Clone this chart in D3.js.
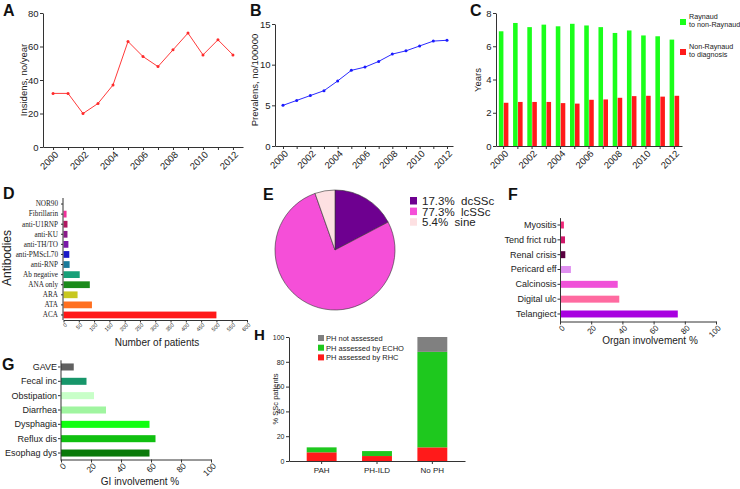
<!DOCTYPE html>
<html><head><meta charset="utf-8">
<script src="https://cdn.jsdelivr.net/npm/d3@7"></script>
<style>body{margin:0;background:#fff} svg{display:block}</style>
</head><body><svg id="c" width="740" height="489" font-family='"Liberation Sans",Arial,sans-serif'></svg>
<script>
// ---------- data ----------
const years = [2000,2001,2002,2003,2004,2005,2006,2007,2008,2009,2010,2011,2012];
const incidence = [32,32,20,26,37,63,54,48,58,68,55,64,55];
const prevalence = [5.0,5.6,6.2,6.8,8.0,9.3,9.7,10.4,11.3,11.7,12.3,12.9,13.0];
const raynaudToNon = [6.9,7.4,7.15,7.3,7.2,7.35,7.25,7.15,6.8,6.95,6.65,6.6,6.4];
const nonRaynaudToDx = [2.6,2.65,2.65,2.65,2.58,2.55,2.78,2.8,2.9,3.0,3.02,2.97,3.02];
const antibodies = ["NOR90","Fibrillarin","anti-U1RNP","anti-KU","anti-TH/TO","anti-PMScL70","anti-RNP","Ab negative","ANA only","ARA","ATA","ACA"];
const antibodyCounts = [0,10,13,13,16,19,20,53,86,46,93,500];
const antibodyColors = ["#e0287a","#f0309a","#b01860","#8a1a8a","#7a18a8","#1818c8","#1a7a9a","#18a078","#1a8a1a","#c8c820","#ff7020","#ff1818"];
const pieLabels = ["dcSSc","lcSSc","sine"];
const pieValues = [17.3,77.3,5.4];
const pieColors = ["#6e0090","#f54fd8","#fde0e2"];
const organs = ["Myositis","Tend frict rub","Renal crisis","Pericard eff","Calcinosis","Digital ulc","Telangiect"];
const organValues = [2.5,3.2,3.4,7,37,38,75.5];
const organColors = ["#f0287a","#d0186a","#5a0040","#e090f0","#f050d8","#ff6aa0","#a800e0"];
const giItems = ["GAVE","Fecal inc","Obstipation","Diarrhea","Dysphagia","Reflux dis","Esophag dys"];
const giValues = [8.5,17,22,30,59,63,59];
const giColors = ["#606060","#17966a","#c8ffc8","#a0f5a0","#10ff10","#10c010","#0a7a0a"];
const phGroups = ["PAH","PH-ILD","No PH"];
const phRHC = [7,4,11];
const phECHO = [4,4,77];
const phNot = [0,0,12];
const phLegend = ["PH not assessed","PH assessed by ECHO","PH assessed by RHC"];
const phColors = {not:"#808080", echo:"#1ec81e", rhc:"#ff1a1a"};

const svg = d3.select("#c");
const AX = "#333";
const SANS = '"Liberation Sans",Arial,sans-serif';

function styleAxis(g, fs, family){
  g.select(".domain").attr("stroke",AX).attr("stroke-width",1);
  g.selectAll(".tick line").attr("stroke",AX);
  g.attr("font-family", family || SANS).attr("font-size",fs);
  g.selectAll("text").attr("fill","#222");
  return g;
}
function rotateTicks(g, dx, dy){
  g.selectAll(".tick text").attr("x",0).attr("y",0).attr("dy","0.35em")
   .attr("text-anchor","end").attr("transform",`translate(${dx},${dy}) rotate(-45)`);
}
function letter(t,x,y,fs){
  svg.append("text").attr("x",x).attr("y",y).text(t).attr("font-size",fs||16)
    .attr("font-weight","bold").attr("fill","#111");
}
function ylabel(t,x,y,fs){
  svg.append("text").attr("transform",`translate(${x},${y}) rotate(-90)`).attr("text-anchor","middle")
    .attr("font-size",fs).attr("fill","#222").text(t);
}
function xlabel(t,x,y,fs){
  svg.append("text").attr("x",x).attr("y",y).attr("text-anchor","middle")
    .attr("font-size",fs).attr("fill","#222").text(t);
}
const evenFmt = d => d%2===0 ? d : "";

// ---------- A ----------
{
  const x = d3.scaleLinear().domain([1999.33,2012.67]).range([43,243]);
  const y = d3.scaleLinear().domain([0,80]).range([147,13]);
  const gx = svg.append("g").attr("transform","translate(0,147)")
    .call(d3.axisBottom(x).tickValues(years).tickSize(3).tickSizeOuter(0).tickFormat(evenFmt));
  styleAxis(gx,9.5); rotateTicks(gx,3,6);
  const gy = svg.append("g").attr("transform","translate(43,0)")
    .call(d3.axisLeft(y).tickValues([0,20,40,60,80]).tickSize(3).tickPadding(1.5).tickSizeOuter(0));
  styleAxis(gy,9.5);
  const line = d3.line().x((d,i)=>x(years[i])).y(d=>y(d));
  svg.append("path").datum(incidence).attr("d",line).attr("fill","none").attr("stroke","#ff3a3a").attr("stroke-width",1);
  svg.selectAll(".pa").data(incidence).join("circle").attr("cx",(d,i)=>x(years[i])).attr("cy",d=>y(d)).attr("r",1.5).attr("fill","#ff2a2a");
  ylabel("Insidens, no/year",27,80,9.5);
  letter("A",3,16);
}
// ---------- B ----------
{
  const x = d3.scaleLinear().domain([1999.415,2012.44]).range([275,453]);
  const y = d3.scaleLinear().domain([0,15]).range([146,24]);
  const gx = svg.append("g").attr("transform","translate(0,146)")
    .call(d3.axisBottom(x).tickValues(years).tickSize(3).tickSizeOuter(0).tickFormat(evenFmt));
  styleAxis(gx,9.5); rotateTicks(gx,3,6);
  const gy = svg.append("g").attr("transform","translate(275,0)")
    .call(d3.axisLeft(y).tickValues([0,5,10,15]).tickSize(3).tickPadding(1.5).tickSizeOuter(0));
  styleAxis(gy,9.5);
  const line = d3.line().x((d,i)=>x(years[i])).y(d=>y(d));
  svg.append("path").datum(prevalence).attr("d",line).attr("fill","none").attr("stroke","#2a2aff").attr("stroke-width",1);
  svg.selectAll(".pb").data(prevalence).join("circle").attr("cx",(d,i)=>x(years[i])).attr("cy",d=>y(d)).attr("r",1.5).attr("fill","#1a1aff");
  ylabel("Prevalens, no/100000",258,80,9.5);
  letter("B",250,16);
}
// ---------- C ----------
{
  const x = d3.scaleBand().domain(years).range([496,682]).paddingInner(0.33).paddingOuter(0.2);
  const x1 = d3.scaleBand().domain(["g","r"]).range([0,x.bandwidth()]).paddingInner(0.08);
  const y = d3.scaleLinear().domain([0,8]).range([146,13]);
  const g = svg.append("g");
  years.forEach((yr,i)=>{
    g.append("rect").attr("x",x(yr)+x1("g")).attr("width",x1.bandwidth()).attr("y",y(raynaudToNon[i])).attr("height",y(0)-y(raynaudToNon[i])).attr("fill","#1aff1a");
    g.append("rect").attr("x",x(yr)+x1("r")).attr("width",x1.bandwidth()).attr("y",y(nonRaynaudToDx[i])).attr("height",y(0)-y(nonRaynaudToDx[i])).attr("fill","#ff1a1a");
  });
  const gx = svg.append("g").attr("transform","translate(0,146)")
    .call(d3.axisBottom(x).tickSize(3).tickSizeOuter(0).tickFormat(evenFmt));
  styleAxis(gx,9.5); rotateTicks(gx,3,6);
  const gy = svg.append("g").attr("transform","translate(496,0)")
    .call(d3.axisLeft(y).tickValues([0,2,4,6,8]).tickSize(3).tickPadding(1.5).tickSizeOuter(0));
  styleAxis(gy,9.5);
  ylabel("Years",481,80,9.5);
  letter("C",470,16);
  const lg = [["#1aff1a","Raynaud","to non-Raynaud",19],["#ff1a1a","Non-Raynaud","to diagnosis",49]];
  lg.forEach(([c,t1,t2,yy])=>{
    svg.append("rect").attr("x",680).attr("y",yy).attr("width",6).attr("height",6).attr("fill",c);
    svg.append("text").attr("x",689).attr("y",yy-0.5).attr("font-size",7.2).attr("fill","#222").text(t1);
    svg.append("text").attr("x",689).attr("y",yy+8).attr("font-size",7.2).attr("fill","#222").text(t2);
  });
}
// ---------- D ----------
{
  const y = d3.scaleBand().domain(antibodies).range([199,320]).paddingInner(0.33).paddingOuter(0.165);
  const x = d3.scaleLinear().domain([0,600]).range([63.5,247]);
  svg.selectAll(".bd").data(antibodyCounts).join("rect")
    .attr("x",x(0)).attr("y",(d,i)=>y(antibodies[i])).attr("height",y.bandwidth())
    .attr("width",d=>x(d)-x(0)).attr("fill",(d,i)=>antibodyColors[i]);
  const gx = svg.append("g").attr("transform","translate(0,320)")
    .call(d3.axisBottom(x).tickValues(d3.range(0,601,50)).tickSize(2.5).tickSizeOuter(0));
  styleAxis(gx,5.5); rotateTicks(gx,2,4);
  const gy = svg.append("g").attr("transform","translate(63,0)")
    .call(d3.axisLeft(y).tickSize(2).tickSizeOuter(0));
  styleAxis(gy,7.2,'"Liberation Serif","Times New Roman",serif');
  gy.select(".domain").attr("d","M-0,198V320");
  ylabel("Antibodies",11,258,12);
  xlabel("Number of patients",157,346,10);
  letter("D",3,199);
}
// ---------- E ----------
{
  const pie = d3.pie().sort(null).value(d=>d)(pieValues);
  const arc = d3.arc().innerRadius(0).outerRadius(60);
  svg.append("g").attr("transform","translate(335,250)")
    .selectAll("path").data(pie).join("path").attr("d",arc)
    .attr("fill",(d,i)=>pieColors[i]).attr("stroke","#333").attr("stroke-width",0.6);
  pieValues.forEach((v,i)=>{
    svg.append("rect").attr("x",410).attr("y",197+i*10.6).attr("width",7).attr("height",7.5).attr("fill",pieColors[i]);
    svg.append("text").attr("x",422).attr("y",205+i*10.6).attr("font-size",11.5).attr("fill","#222")
      .attr("xml:space","preserve").text(v.toFixed(1)+"%  "+pieLabels[i]);
  });
  letter("E",263,200);
}
// ---------- F ----------
{
  const y = d3.scaleBand().domain(organs).range([217.6,321.4]).paddingInner(0.53).paddingOuter(0.265);
  const x = d3.scaleLinear().domain([0,100]).range([560,716]);
  svg.selectAll(".bf").data(organValues).join("rect")
    .attr("x",x(0)).attr("y",(d,i)=>y(organs[i])).attr("height",y.bandwidth())
    .attr("width",d=>x(d)-x(0)).attr("fill",(d,i)=>organColors[i]);
  const gx = svg.append("g").attr("transform","translate(0,321.5)")
    .call(d3.axisBottom(x).tickValues([0,20,40,60,80,100]).tickSize(3).tickSizeOuter(0));
  styleAxis(gx,8); rotateTicks(gx,3,5);
  const gy = svg.append("g").attr("transform","translate(560,0)")
    .call(d3.axisLeft(y).tickSize(2.5).tickPadding(1).tickSizeOuter(0));
  styleAxis(gy,9);
  xlabel("Organ involvement %",650,344,10);
  letter("F",508,200);
}
// ---------- G ----------
{
  const y = d3.scaleBand().domain(giItems).range([359.8,460.2]).paddingInner(0.51).paddingOuter(0.255);
  const x = d3.scaleLinear().domain([0,100]).range([61,211]);
  svg.selectAll(".bg").data(giValues).join("rect")
    .attr("x",x(0)).attr("y",(d,i)=>y(giItems[i])).attr("height",y.bandwidth())
    .attr("width",d=>x(d)-x(0)).attr("fill",(d,i)=>giColors[i]);
  const gx = svg.append("g").attr("transform","translate(0,459.5)")
    .call(d3.axisBottom(x).tickValues([0,20,40,60,80,100]).tickSize(3).tickSizeOuter(0));
  styleAxis(gx,8.5); rotateTicks(gx,3,5);
  const gy = svg.append("g").attr("transform","translate(60.5,0)")
    .call(d3.axisLeft(y).tickSize(2.5).tickPadding(1).tickSizeOuter(0));
  styleAxis(gy,9);
  xlabel("GI involvement %",140,485,10);
  letter("G",2,370);
}
// ---------- H ----------
{
  const x = d3.scaleBand().domain(phGroups).range([289,465]).paddingInner(0.46).paddingOuter(0.32);
  const y = d3.scaleLinear().domain([0,100]).range([461,337]);
  phGroups.forEach((gname,i)=>{
    const segs = [[0,phRHC[i],phColors.rhc],[phRHC[i],phRHC[i]+phECHO[i],phColors.echo],[phRHC[i]+phECHO[i],phRHC[i]+phECHO[i]+phNot[i],phColors.not]];
    segs.forEach(([a,b,c])=>{ if(b>a) svg.append("rect").attr("x",x(gname)).attr("width",x.bandwidth())
      .attr("y",y(b)).attr("height",y(a)-y(b)).attr("fill",c); });
  });
  const gx = svg.append("g").attr("transform","translate(0,461)")
    .call(d3.axisBottom(x).tickSize(3).tickSizeOuter(0));
  styleAxis(gx,8);
  const gy = svg.append("g").attr("transform","translate(289,0)")
    .call(d3.axisLeft(y).tickValues([0,20,40,60,80,100]).tickSize(3).tickPadding(1.5).tickSizeOuter(0));
  styleAxis(gy,7);
  ylabel("% SSc patients",278,399,7.5);
  const lc = [phColors.not, phColors.echo, phColors.rhc];
  phLegend.forEach((t,i)=>{
    svg.append("rect").attr("x",318).attr("y",335+i*9.7).attr("width",6).attr("height",6).attr("fill",lc[i]);
    svg.append("text").attr("x",326).attr("y",341+i*9.7).attr("font-size",7.5).attr("fill","#222").text(t);
  });
  letter("H",254,340,15);
}
</script></body></html>
